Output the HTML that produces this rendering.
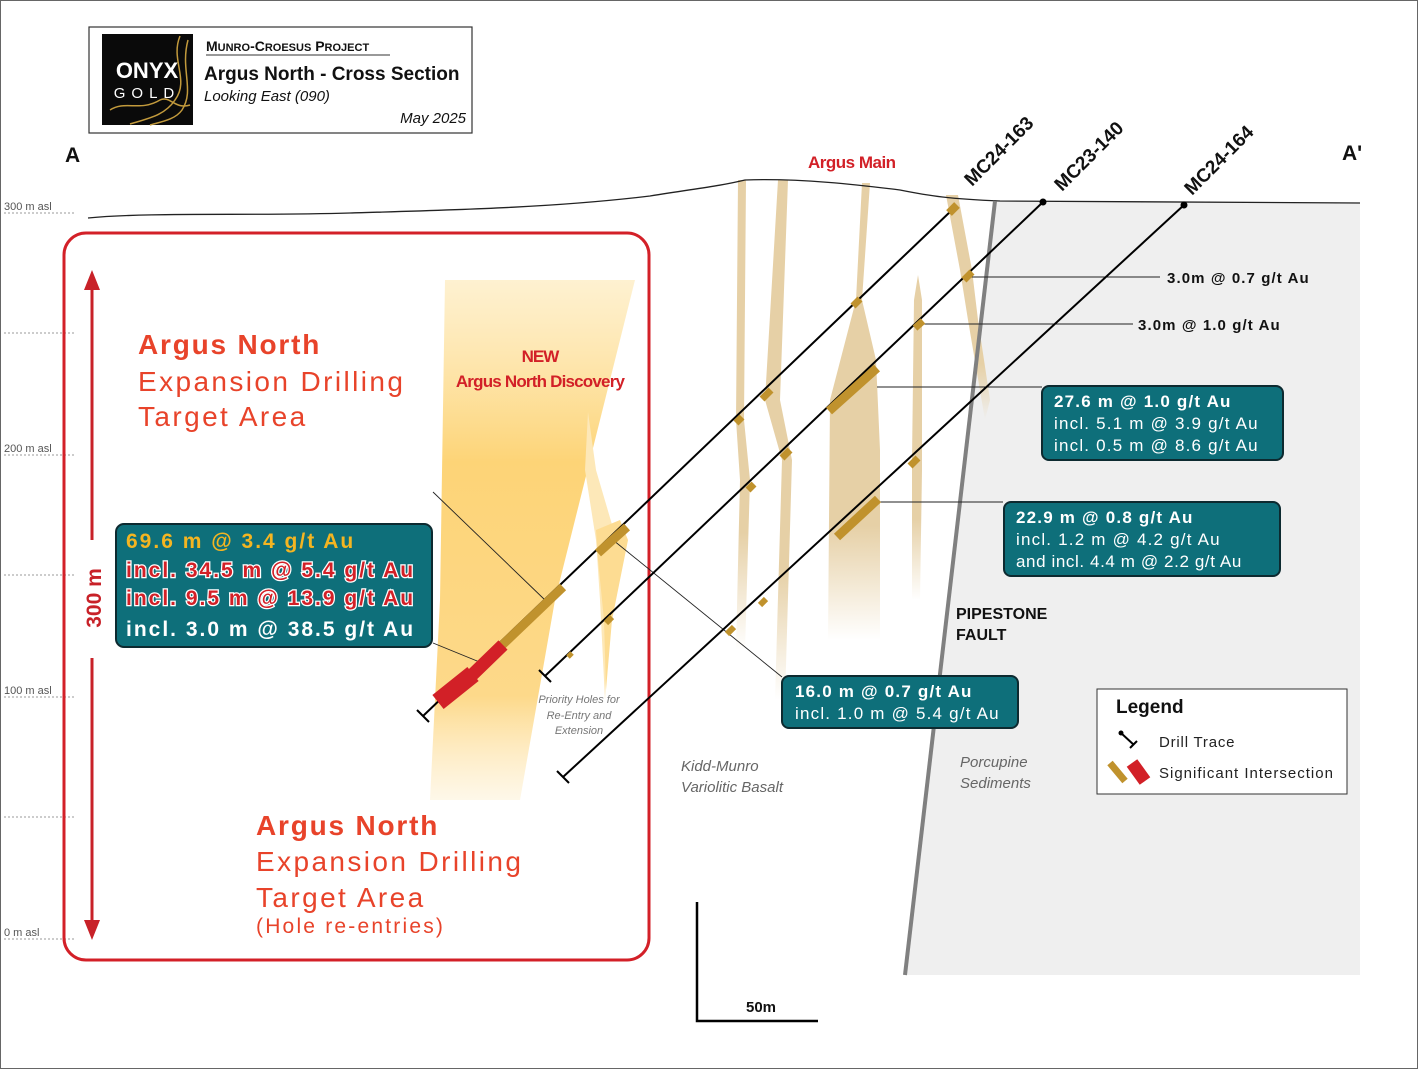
<!DOCTYPE html>
<html><head><meta charset="utf-8"><style>
html,body{margin:0;padding:0;background:#fff}
svg{display:block}
text{font-family:"Liberation Sans",sans-serif}
</style></head><body>
<svg width="1418" height="1069" viewBox="0 0 1418 1069" xmlns="http://www.w3.org/2000/svg">
<defs>
<linearGradient id="gy" x1="0" y1="0" x2="0" y2="1">
<stop offset="0" stop-color="#fde3a2" stop-opacity="0.5"/>
<stop offset="0.35" stop-color="#fdd477"/>
<stop offset="0.8" stop-color="#fdd98a"/>
<stop offset="1" stop-color="#fde7b5" stop-opacity="0.3"/>
</linearGradient>
<linearGradient id="gb" x1="0" y1="0" x2="0" y2="1">
<stop offset="0" stop-color="#e6d0a6"/>
<stop offset="0.75" stop-color="#e6d0a6"/>
<stop offset="1" stop-color="#e6d0a6" stop-opacity="0"/>
</linearGradient>
</defs>
<rect x="0.5" y="0.5" width="1417" height="1068" fill="#fff" stroke="#666"/>
<polygon points="995,201 1360,203 1360,975 905,975" fill="#efefef"/>
<g font-size="11" fill="#555">
<text x="4" y="210">300 m asl</text><text x="4" y="452">200 m asl</text><text x="4" y="694">100 m asl</text><text x="4" y="936">0 m asl</text></g>
<g stroke="#999" stroke-dasharray="2,2" stroke-width="1">
<line x1="4" y1="213" x2="74" y2="213"/><line x1="4" y1="333" x2="74" y2="333"/><line x1="4" y1="455" x2="74" y2="455"/><line x1="4" y1="575" x2="74" y2="575"/><line x1="4" y1="697" x2="74" y2="697"/><line x1="4" y1="817" x2="74" y2="817"/><line x1="4" y1="939" x2="74" y2="939"/></g>
<polygon points="445,280 635,280 600,420 555,600 520,800 430,800 440,600" fill="url(#gy)"/>
<polygon points="588,412 596,470 618,545 610,600 605,700 600,600 596,540 585,470" fill="#fde8b8"/>
<polygon points="596,530 620,520 628,540 612,620 606,690 604,620 598,560" fill="#fddc92"/>
<g fill="url(#gb)">
<polygon points="738,180 746,180 744,420 750,480 745,650 736,650 740,480 736,420"/>
<polygon points="778,180 788,180 780,400 792,460 785,700 775,700 782,460 765,400"/>
<polygon points="862,183 870,183 862,300 876,360 880,450 880,640 828,640 830,400 856,300"/>
<polygon points="918,275 922,300 922,470 920,600 912,600 912,460 914,300"/>
<polygon points="946,195 958,195 972,270 978,320 990,400 985,420 968,320 960,270"/>
</g>
<path d="M88,218 C150,212 250,216 350,213 C450,210 550,208 650,196 C700,188 720,186 745,180 C800,178 860,185 900,190 C930,196 950,199 1000,201 L1360,203" fill="none" stroke="#222" stroke-width="1.3"/>
<line x1="995" y1="201" x2="905" y2="975" stroke="#808080" stroke-width="4"/>
<rect x="64" y="233" width="585" height="727" rx="22" fill="none" stroke="#d32028" stroke-width="3"/>
<line x1="92" y1="285" x2="92" y2="540" stroke="#c82128" stroke-width="3"/>
<line x1="92" y1="658" x2="92" y2="925" stroke="#c82128" stroke-width="3"/>
<polygon points="92,270 84,290 100,290" fill="#c82128"/><polygon points="92,940 84,920 100,920" fill="#c82128"/>
<text transform="translate(101,598) rotate(-90)" text-anchor="middle" font-size="21" font-weight="bold" fill="#c82128">300 m</text>
<g stroke="#222" stroke-width="0.9">
<line x1="433" y1="492" x2="545" y2="600"/><line x1="433" y1="643" x2="482" y2="663"/>
<line x1="613" y1="540" x2="782" y2="677"/>
<line x1="967" y1="277" x2="1160" y2="277"/><line x1="918" y1="324" x2="1133" y2="324"/>
<line x1="877" y1="387" x2="1042" y2="387"/><line x1="877" y1="502" x2="1003" y2="502"/>
</g>
<g stroke="#000" stroke-width="2">
<line x1="952" y1="210" x2="423" y2="716"/><line x1="1043" y1="202" x2="545" y2="676"/><line x1="1184" y1="205" x2="563" y2="777"/>
<line x1="417" y1="710" x2="429" y2="722"/><line x1="539" y1="670" x2="551" y2="682"/><line x1="557" y1="771" x2="569" y2="783"/>
</g>
<g fill="#000"><circle cx="952" cy="210" r="3.5"/><circle cx="1043" cy="202" r="3.5"/><circle cx="1184" cy="205" r="3.5"/></g>
<g stroke="#c0922d" stroke-linecap="butt">
<line x1="563" y1="587" x2="497" y2="650" stroke-width="9"/>
<line x1="627" y1="527" x2="598" y2="553" stroke-width="9"/>
<line x1="877" y1="368" x2="829" y2="411" stroke-width="9"/>
<line x1="878" y1="499" x2="837" y2="537" stroke-width="9"/>
<line x1="957" y1="205" x2="949" y2="213" stroke-width="8"/>
<line x1="972" y1="272" x2="964" y2="280" stroke-width="7"/>
<line x1="860" y1="299" x2="853" y2="306" stroke-width="7"/>
<line x1="923" y1="321" x2="915" y2="328" stroke-width="7"/>
<line x1="771" y1="390" x2="762" y2="399" stroke-width="7"/>
<line x1="742" y1="417" x2="736" y2="423" stroke-width="7"/>
<line x1="790" y1="450" x2="782" y2="458" stroke-width="7"/>
<line x1="754" y1="484" x2="748" y2="490" stroke-width="7"/>
<line x1="918" y1="458" x2="910" y2="466" stroke-width="7"/>
<line x1="766" y1="599" x2="760" y2="605" stroke-width="6"/>
<line x1="734" y1="627" x2="727" y2="634" stroke-width="6"/>
<line x1="612" y1="617" x2="606" y2="623" stroke-width="6"/>
<line x1="572" y1="653" x2="568" y2="657" stroke-width="5"/>
</g>
<g stroke="#d22027">
<line x1="503" y1="645" x2="470" y2="677" stroke-width="13"/>
<line x1="473" y1="674" x2="438" y2="702" stroke-width="18"/>
</g>
<rect x="89" y="27" width="383" height="106" fill="#fff" stroke="#333" stroke-width="1.2"/>
<rect x="102" y="34" width="91" height="91" fill="#0a0a0a"/>
<g fill="none" stroke="#c29a3c" stroke-width="1.5">
<path d="M180,36 C170,60 190,80 175,100 C165,115 150,118 130,124"/><path d="M188,40 C180,70 195,90 182,110 C175,120 160,122 150,125"/><path d="M110,110 C125,100 140,112 160,100 C170,95 175,110 190,105"/></g>
<text x="147" y="78" text-anchor="middle" font-size="22" font-weight="bold" fill="#fff">ONYX</text>
<text x="147" y="98" text-anchor="middle" font-size="15" fill="#fff" letter-spacing="6">GOLD</text>
<text x="206" y="51" font-size="14" font-weight="bold" fill="#111">M<tspan font-size="11">UNRO</tspan>-C<tspan font-size="11">ROESUS</tspan> P<tspan font-size="11">ROJECT</tspan></text>
<line x1="206" y1="55" x2="390" y2="55" stroke="#333"/>
<text x="204" y="80" font-size="19" font-weight="bold" fill="#111">Argus North - Cross Section</text>
<text x="204" y="101" font-size="15" font-style="italic" fill="#111">Looking East (090)</text>
<text x="466" y="123" text-anchor="end" font-size="15" font-style="italic" fill="#111">May 2025</text>
<text x="65" y="162" font-size="21" font-weight="bold" fill="#111">A</text>
<text x="1342" y="160" font-size="21" font-weight="bold" fill="#111">A'</text>
<text x="808" y="168" font-size="17" font-weight="bold" fill="#d22027" letter-spacing="-0.5">Argus Main</text>
<g font-size="19" font-weight="bold" fill="#111">
<text transform="translate(972,187) rotate(-45)">MC24-163</text>
<text transform="translate(1062,192) rotate(-45)">MC23-140</text>
<text transform="translate(1192,196) rotate(-45)">MC24-164</text></g>
<g font-size="28" fill="#e8432a" letter-spacing="2.4">
<text x="138" y="354" font-weight="bold" letter-spacing="1.8">Argus North</text>
<text x="138" y="391">Expansion Drilling</text>
<text x="138" y="426">Target Area</text>
<text x="256" y="835" font-weight="bold" letter-spacing="1.8">Argus North</text>
<text x="256" y="871">Expansion Drilling</text>
<text x="256" y="907">Target Area</text>
<text x="256" y="933" font-size="21" letter-spacing="2.2">(Hole re-entries)</text></g>
<text x="540" y="362" text-anchor="middle" font-size="17" font-weight="bold" fill="#d22027" letter-spacing="-1">NEW</text>
<text x="540" y="387" text-anchor="middle" font-size="17" font-weight="bold" fill="#d22027" letter-spacing="-0.8">Argus North Discovery</text>
<g font-size="11" font-style="italic" fill="#777" text-anchor="middle">
<text x="579" y="703">Priority Holes for</text><text x="579" y="719">Re-Entry and</text><text x="579" y="734">Extension</text></g>
<g font-size="15" font-style="italic" fill="#666">
<text x="681" y="771">Kidd-Munro</text><text x="681" y="792">Variolitic Basalt</text>
<text x="960" y="767">Porcupine</text><text x="960" y="788">Sediments</text></g>
<g font-size="16" font-weight="bold" fill="#111"><text x="956" y="619">PIPESTONE</text><text x="956" y="640">FAULT</text></g>
<g font-size="15" font-weight="bold" fill="#111" letter-spacing="1.1"><text x="1167" y="283">3.0m @ 0.7 g/t Au</text><text x="1138" y="330">3.0m @ 1.0 g/t Au</text></g>
<g fill="#0e6f7a" stroke="#0d2a30" stroke-width="2">
<rect x="116" y="524" width="316" height="123" rx="8"/>
<rect x="1042" y="386" width="241" height="74" rx="7"/>
<rect x="1004" y="502" width="276" height="74" rx="7"/>
<rect x="782" y="676" width="236" height="52" rx="7"/>
</g>
<g letter-spacing="2">
<text x="126" y="548" font-size="21" font-weight="bold" fill="#f4b521">69.6 m @ 3.4 g/t Au</text>
<g font-size="21" font-weight="bold" fill="#d22027" stroke="#fff" stroke-width="2.5" paint-order="stroke">
<text x="126" y="577">incl. 34.5 m @ 5.4 g/t Au</text><text x="126" y="605">incl. 9.5 m @ 13.9 g/t Au</text></g>
<text x="126" y="636" font-size="21" font-weight="bold" fill="#fff">incl. 3.0 m @ 38.5 g/t Au</text>
</g>
<g fill="#fff" font-size="17" letter-spacing="1.2">
<text x="1054" y="407" font-weight="bold">27.6 m @ 1.0 g/t Au</text><text x="1054" y="429">incl. 5.1 m @ 3.9 g/t Au</text><text x="1054" y="451">incl. 0.5 m @ 8.6 g/t Au</text>
<text x="1016" y="523" font-weight="bold">22.9 m @ 0.8 g/t Au</text><text x="1016" y="545">incl. 1.2 m @ 4.2 g/t Au</text><text x="1016" y="567" letter-spacing="0.6">and incl. 4.4 m @ 2.2 g/t Au</text>
<text x="795" y="697" font-weight="bold">16.0 m @ 0.7 g/t Au</text><text x="795" y="719">incl. 1.0 m @ 5.4 g/t Au</text></g>
<rect x="1097" y="689" width="250" height="105" fill="#fff" stroke="#333"/>
<text x="1116" y="713" font-size="19" font-weight="bold" fill="#111">Legend</text>
<line x1="1121" y1="733" x2="1134" y2="745" stroke="#000" stroke-width="2"/><circle cx="1121" cy="733" r="2.5"/><line x1="1130" y1="748" x2="1137" y2="741" stroke="#000" stroke-width="2"/>
<text x="1159" y="747" font-size="15" fill="#222" letter-spacing="0.8">Drill Trace</text>
<line x1="1110" y1="763" x2="1125" y2="781" stroke="#c0922d" stroke-width="7"/>
<line x1="1132" y1="763" x2="1145" y2="781" stroke="#d22027" stroke-width="13"/>
<text x="1159" y="778" font-size="15" fill="#222" letter-spacing="1">Significant Intersection</text>
<polyline points="697,902 697,1021 818,1021" fill="none" stroke="#000" stroke-width="2.5"/>
<text x="746" y="1012" font-size="15" font-weight="bold" fill="#111">50m</text>
</svg>
</body></html>
